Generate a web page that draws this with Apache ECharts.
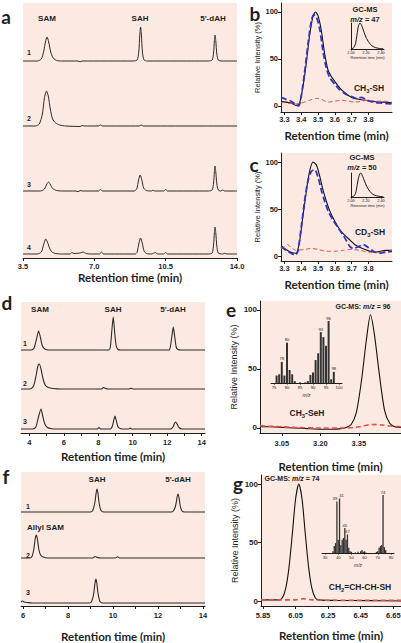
<!DOCTYPE html>
<html><head><meta charset="utf-8">
<script src="https://cdn.jsdelivr.net/npm/echarts@6/dist/echarts.min.js"></script>
<style>html,body{margin:0;padding:0;background:#fff}#c{width:401px;height:643px}</style>
</head><body><div id="c"></div>
<script>
// ---------------- DATA ----------------
// Panel a: HPLC traces (time min, absorbance a.u.)
const aTrace1 = [[3.5,0],[4.2,0],[4.4,2],[4.52,10],[4.6,19],[4.68,24],[4.76,19],[4.86,9],[4.98,3],[5.15,0.5],[5.4,0],[6.2,0],[6.3,-0.8],[6.4,0],[8.9,0],[9.1,1],[9.18,9],[9.23,26],[9.27,34],[9.31,26],[9.36,9],[9.44,1],[9.6,0],[12.6,0],[12.78,1],[12.85,8],[12.89,20],[12.92,26],[12.96,20],[13.01,7],[13.08,1],[13.25,0],[14.0,0]];
const aTrace2 = [[3.5,0],[4.1,0],[4.3,2],[4.45,12],[4.55,28],[4.65,35],[4.74,30],[4.84,17],[4.95,7],[5.1,3],[5.3,1],[5.6,0],[6.3,-0.5],[6.4,0.5],[6.5,0],[7.2,0],[7.3,1],[7.4,0],[9.2,0],[9.3,1],[9.4,0],[14.0,0]];
const aTrace3 = [[3.5,0],[4.35,0],[4.55,2],[4.67,7],[4.75,9],[4.83,7],[4.95,2.5],[5.15,0.5],[5.4,0],[6.1,0],[6.2,-0.8],[6.3,0.5],[6.4,0],[7.2,0],[7.3,1.5],[7.4,0],[8.95,0],[9.08,2],[9.17,11],[9.25,16],[9.33,11],[9.42,3],[9.55,0.5],[9.8,0],[9.88,0.8],[9.96,0],[10.4,0],[10.5,1.5],[10.6,0],[12.6,0],[12.78,1],[12.85,8],[12.89,19],[12.92,25],[12.96,19],[13.01,7],[13.08,1],[13.2,0],[13.3,1],[13.4,0],[14.0,0]];
const aTrace4 = [[3.5,0],[4.2,0],[4.4,2],[4.52,10],[4.62,15],[4.7,12],[4.8,6],[4.92,2],[5.1,0.5],[5.4,0],[5.8,0],[5.9,1.5],[6.0,0.5],[6.3,1],[6.45,2],[6.6,0.5],[6.8,0],[7.25,0],[7.35,2],[7.45,0],[9.0,0],[9.1,2],[9.19,11],[9.27,16],[9.35,11],[9.44,3],[9.56,0.5],[9.8,0],[10.0,1.5],[10.1,0],[10.4,0],[10.5,1.5],[10.6,0],[12.6,0],[12.78,1],[12.85,9],[12.89,21],[12.92,27],[12.96,21],[13.01,8],[13.08,1],[13.3,0],[13.4,0.8],[13.5,0],[14.0,0]];
const aTicks = [3.5,7.0,10.5,14.0];
const aPeakNames = ['SAM','SAH',"5'-dAH"];
const traceNums = ['1','2','3','4'];

// Panel b: GC-MS, CH3-SH (relative intensity %)
const bBlack = [[3.28,5],[3.31,4],[3.34,3],[3.37,0.5],[3.39,3],[3.41,20],[3.43,45],[3.45,75],[3.47,95],[3.485,100],[3.5,96],[3.52,80],[3.54,55],[3.56,38],[3.58,31],[3.6,26],[3.63,19],[3.66,14],[3.7,9],[3.74,7],[3.78,6],[3.82,5],[3.86,4],[3.9,4],[3.94,3]];
const bBlue = [[3.28,9],[3.31,7],[3.34,5],[3.37,1],[3.385,0],[3.4,10],[3.42,35],[3.44,65],[3.46,90],[3.475,97],[3.49,95],[3.51,82],[3.53,58],[3.55,40],[3.57,30],[3.6,23],[3.63,17],[3.66,13],[3.7,10],[3.73,8],[3.76,9],[3.79,6],[3.83,4],[3.88,3],[3.94,2]];
const bRed = [[3.28,4],[3.32,3],[3.36,2],[3.4,3],[3.45,6],[3.49,8],[3.52,7],[3.56,4],[3.6,5],[3.64,6],[3.68,5],[3.72,4],[3.76,5],[3.8,6],[3.85,5],[3.9,5],[3.94,4]];
const bInset = [[2.0,1],[2.03,3],[2.06,20],[2.08,55],[2.1,90],[2.12,100],[2.14,92],[2.17,68],[2.2,45],[2.24,25],[2.28,12],[2.33,5],[2.38,2],[2.43,1]];
// Panel c: CD3-SH
const cBlack = [[3.28,11],[3.31,7],[3.34,4],[3.37,3],[3.39,15],[3.41,42],[3.43,68],[3.45,90],[3.47,100],[3.49,97],[3.51,85],[3.53,70],[3.55,58],[3.57,48],[3.6,37],[3.63,28],[3.66,22],[3.69,17],[3.72,12],[3.75,9],[3.78,7],[3.81,5],[3.84,4],[3.87,5],[3.9,6],[3.94,6]];
const cBlue = [[3.28,10],[3.31,6],[3.34,3],[3.365,1],[3.38,5],[3.4,30],[3.42,58],[3.44,80],[3.46,90],[3.48,92],[3.5,84],[3.52,70],[3.54,58],[3.56,48],[3.59,38],[3.62,30],[3.65,22],[3.67,16],[3.69,10],[3.71,8],[3.74,10],[3.77,12],[3.8,9],[3.83,5],[3.86,3],[3.9,4],[3.94,5]];
const cRed = [[3.28,8],[3.3,10],[3.32,12],[3.34,9],[3.37,6],[3.42,7],[3.46,8],[3.5,7],[3.55,5],[3.6,5],[3.65,6],[3.7,7],[3.75,6],[3.8,4],[3.85,4],[3.9,5],[3.94,6]];
const cInset = [[2.0,1],[2.03,2],[2.06,15],[2.08,45],[2.1,80],[2.12,98],[2.13,100],[2.15,90],[2.18,66],[2.21,44],[2.25,24],[2.29,11],[2.34,5],[2.39,2],[2.43,1]];
const bTicks = [3.3,3.4,3.5,3.6,3.7,3.8];
const intensityTicks = [0,50,100];
const insetTicks = [2.0,2.2,2.4];

// Panel d
const dTrace1 = [[3.52,0],[4.1,0],[4.28,2],[4.42,11],[4.54,19],[4.64,13],[4.76,4],[4.9,1],[5.1,0],[8.6,0],[8.7,3],[8.78,18],[8.87,33],[8.95,18],[9.04,4],[9.15,0.5],[9.3,0],[12.1,0],[12.18,3],[12.27,14],[12.35,23],[12.43,14],[12.52,3],[12.62,0.5],[12.8,0],[14.19,0]];
const dTrace2 = [[3.52,0],[4.05,0],[4.25,3],[4.4,14],[4.5,23],[4.58,25],[4.68,20],[4.8,10],[4.92,4],[5.1,1.5],[5.4,0.5],[5.8,0],[8.2,0],[8.3,1.5],[8.42,0.5],[8.6,0],[9.8,0],[9.9,0.8],[10.0,0],[14.19,0]];
const dTrace3 = [[3.52,0],[4.2,0],[4.38,2],[4.52,11],[4.68,20],[4.78,13],[4.9,5],[5.05,1.5],[5.3,0.3],[5.6,0],[7.95,0],[8.04,1.5],[8.13,0],[8.7,0],[8.8,2],[8.89,8],[8.97,13],[9.05,8],[9.15,2],[9.3,0.3],[9.5,0],[9.78,0],[9.85,1],[9.92,0],[12.2,0],[12.33,2],[12.42,5.5],[12.49,7],[12.57,5],[12.68,1.5],[12.85,0],[14.19,0]];
const dTicks = [4,6,8,10,12,14];
const dTickMarks = [4,5,6,7,8,9,10,11,12,13,14];

// Panel e: CH3-SeH
const eBlack = [[2.965,1],[3.0,1],[3.05,0.5],[3.1,0],[3.15,-0.5],[3.2,-1],[3.25,-1],[3.28,-0.5],[3.3,0.5],[3.32,3],[3.34,13],[3.36,40],[3.38,76],[3.395,96],[3.41,80],[3.43,45],[3.45,15],[3.47,4],[3.49,1],[3.514,0.5]];
const eRed = [[2.965,2],[3.0,1.5],[3.05,1],[3.1,0.5],[3.2,0],[3.3,0],[3.35,1],[3.4,3],[3.44,2.5],[3.48,1.5],[3.514,1]];
const eTicks = [3.05,3.20,3.35];
const eSpecMz = [76,77,78,79,80,81,82,83,85,87,88,89,90,91,92,93,94,95,96,97,98];
const eSpecInt = [12,14,34,12,65,21,14,3,1,1,3,13,17,37,48,82,74,60,100,6,18];
const eSpecLabeled = [78,80,93,96,98];
const eSpecTicks = [75,80,85,90,95,100];

// Panel f
const fTrace1 = [[5.91,0],[9.0,0],[9.1,1.5],[9.19,9],[9.25,19],[9.29,23],[9.33,19],[9.39,8],[9.47,1.5],[9.6,0],[12.6,0],[12.7,1.5],[12.79,7],[12.85,15],[12.89,18],[12.93,15],[12.99,6],[13.07,1],[13.2,0],[14.09,0]];
const fTrace2 = [[5.91,0],[6.3,0],[6.4,1.5],[6.48,9],[6.54,19],[6.59,23],[6.64,19],[6.7,9],[6.78,3],[6.9,1],[7.1,0],[9.1,0],[9.2,1.5],[9.3,0.5],[9.45,0],[10.1,0],[10.2,1.2],[10.3,0],[14.09,0]];
const fTrace3 = [[5.91,1],[5.97,2],[6.05,1],[6.2,0.5],[6.4,0],[8.95,0],[9.05,1.5],[9.14,9],[9.2,20],[9.24,24],[9.28,20],[9.34,9],[9.42,1.5],[9.55,0],[14.09,0]];
const fTicks = [6,8,10,12,14];
const fTickMarks = [6,7,8,9,10,11,12,13,14];

// Panel g: CH2=CH-CH-SH
const gBlack = [[5.838,1],[5.9,1],[5.95,1],[5.97,3],[5.99,11],[6.01,29],[6.03,57],[6.05,87],[6.07,100],[6.09,87],[6.11,57],[6.13,29],[6.15,11],[6.17,3],[6.19,1],[6.3,0.5],[6.5,0.3],[6.697,0]];
const gRed = [[5.838,1],[5.95,1],[6.05,1],[6.1,2],[6.15,1],[6.3,0.5],[6.5,0.5],[6.697,0.5]];
const gTicks = [5.85,6.05,6.25,6.45,6.65];
const gSpecMz = [36,37,38,39,40,41,42,43,44,45,46,47,48,49,50,53,55,57,58,59,60,61,69,70,71,72,73,74,75,76];
const gSpecInt = [3,12,17,89,23,94,14,23,26,43,23,32,9,3,2,1,2,3,5,2,3,1,2,3,9,12,14,100,10,5];
const gSpecLabeled = [39,41,45,47,74];
const gSpecTicks = [30,40,50,60,70,80];

// ---------------- LAYOUT / STYLE ----------------
const INK = '#1e1e1e';
const FONT = "'Liberation Sans', Arial, sans-serif";
const TFONT = "Lato, 'Open Sans', sans-serif";
const PINK = '#fce9e1';
const A_OFF = [197,132,67,4], D_OFF = [83,44,4], F_OFF = [94,48,3];
const LABEL_SHIFT = {39:[-2,0], 41:[2,0]};

const grids = [
  {left:23, top:3, width:214, height:255, bg:1},    //0 a
  {left:281, top:3, width:111, height:109, bg:1},   //1 b
  {left:351, top:23, width:33, height:26},          //2 b inset
  {left:281, top:153, width:111, height:108, bg:1}, //3 c
  {left:351, top:173, width:33, height:24},         //4 c inset
  {left:21, top:302, width:184, height:131, bg:1},  //5 d
  {left:260, top:301, width:141, height:132, bg:1}, //6 e
  {left:271, top:321, width:71, height:62},         //7 e inset
  {left:21, top:472, width:184, height:134, bg:1},  //8 f
  {left:261, top:475, width:140, height:131, bg:1}, //9 g
  {left:322, top:495, width:72, height:58}          //10 g inset
].map(g => ({left:g.left, top:g.top, width:g.width, height:g.height, show:!!g.bg,
  backgroundColor: g.bg ? PINK : 'transparent', borderWidth:0, containLabel:false, outerBoundsMode:'none'}));

function mkX(gi, min, max, labels, ticks, o) {
  return {type:'value', gridIndex:gi, min, max, position:'bottom',
    axisLine:{show:true, onZero:false, lineStyle:{color:INK, width:1}},
    axisTick:{show:true, length:o.tl||3, customValues:ticks, lineStyle:{color:INK, width:1}},
    axisLabel:{show:true, customValues:labels, formatter:o.fmt, fontSize:o.fs||7.5, fontWeight:o.fw||'bold',
      fontFamily:FONT, color:INK, margin:o.lm||4, hideOverlap:false},
    splitLine:{show:false},
    name:o.name||'', nameLocation:'middle', nameGap:o.ng||15,
    nameTextStyle:{fontSize:o.nfs||11.5, fontWeight:o.nfw||'bold', fontFamily:o.nff||TFONT, color:INK, fontStyle:o.nst||'normal'}};
}
function mkY(gi, min, max, o) {
  if (o.hidden) return {type:'value', gridIndex:gi, min, max, show:false};
  return {type:'value', gridIndex:gi, min, max, position:'left',
    axisLine:{show:true, onZero:false, lineStyle:{color:INK, width:1}},
    axisTick:{show:!o.noTick, length:3, customValues:o.labels, lineStyle:{color:INK}},
    axisLabel:{show:!!o.labels, customValues:o.labels, fontSize:o.fs||7.5, fontWeight:'bold', fontFamily:FONT, color:INK, margin:3},
    splitLine:{show:false},
    name:o.name||'', nameLocation:'middle', nameGap:o.ng||14,
    nameTextStyle:{fontSize:o.nfs||7.5, fontFamily:FONT, color:INK}};
}
const RT = 'Retention time (min)';
const RI = 'Relative Intensity (%)';
const f1 = v => v.toFixed(1), f2 = v => v.toFixed(2), f0 = v => String(v);

const xAxis = [
  mkX(0, 3.5, 14.0, aTicks, aTicks, {fmt:f1, name:RT, ng:13}),
  mkX(1, 3.28, 3.94, bTicks, bTicks, {fmt:f1, name:RT, ng:17, lm:3}),
  mkX(2, 2.0, 2.44, insetTicks, insetTicks, {fmt:f2, fs:3.8, fw:'normal', lm:2, tl:1.5, name:RT, ng:6, nfs:3.8, nfw:'normal', nff:FONT}),
  mkX(3, 3.28, 3.94, bTicks, bTicks, {fmt:f1, name:RT, ng:17, lm:3}),
  mkX(4, 2.0, 2.44, insetTicks, insetTicks, {fmt:f2, fs:3.8, fw:'normal', lm:2, tl:1.5, name:RT, ng:6, nfs:3.8, nfw:'normal', nff:FONT}),
  mkX(5, 3.52, 14.19, dTicks, dTickMarks, {fmt:f0, name:RT, ng:17, lm:5}),
  mkX(6, 2.965, 3.514, eTicks, eTicks, {fmt:f2, name:RT, ng:27, lm:6}),
  mkX(7, 73.85, 101.15, eSpecTicks, eSpecTicks, {fmt:f0, fs:4.2, fw:'normal', lm:2, tl:1.5, name:'m/z', ng:9, nfs:5, nfw:'normal', nff:FONT, nst:'italic'}),
  mkX(8, 5.91, 14.09, fTicks, fTickMarks, {fmt:f0, name:RT, ng:24, lm:5}),
  mkX(9, 5.838, 6.697, gTicks, gTicks, {fmt:f2, name:RT, ng:23, lm:5}),
  mkX(10, 27.7, 82.3, gSpecTicks, gSpecTicks, {fmt:f0, fs:4.2, fw:'normal', lm:2, tl:1.5, name:'m/z', ng:9, nfs:5, nfw:'normal', nff:FONT, nst:'italic'})
];
const yAxis = [
  mkY(0, 0, 255, {hidden:true}),
  mkY(1, -6.5, 109.5, {labels:intensityTicks, name:RI, ng:14}),
  mkY(2, 0, 100, {noTick:true}),
  mkY(3, -5.3, 109.6, {labels:intensityTicks, name:RI, ng:14}),
  mkY(4, 0, 100, {noTick:true}),
  mkY(5, 0, 131, {hidden:true}),
  mkY(6, -4.24, 107.6, {labels:intensityTicks, name:RI, ng:22, nfs:9, fs:8}),
  mkY(7, 0, 100, {hidden:true}),
  mkY(8, 0, 134, {hidden:true}),
  mkY(9, -4.27, 107.7, {labels:intensityTicks, name:RI, ng:22, nfs:9, fs:8}),
  mkY(10, 0, 100, {hidden:true})
];

const shift = (arr, off) => arr.map(p => [p[0], p[1] + off]);
function line(gi, data, color, width, type, smooth) {
  return {type:'line', xAxisIndex:gi, yAxisIndex:gi, data, showSymbol:false, symbol:'none',
    smooth: smooth === undefined ? 0.25 : smooth, clip:true, silent:true,
    lineStyle:{color, width, type: type||'solid'}, z:3};
}
const TRACE = '#2b2b2b';
const BLUE = '#2f33c9', RED = '#e2504a';
function bars(gi, mz, inten, labeled, bw) {
  return {type:'bar', xAxisIndex:gi, yAxisIndex:gi,
    data: mz.map((m,i)=>{
      const d = {value:[m, inten[i]]};
      if (LABEL_SHIFT[m]) d.label = {offset: LABEL_SHIFT[m]};
      return d;
    }), barWidth:bw,
    itemStyle:{color:'#333'}, silent:true, z:4,
    label:{show:true, position:'top', distance:1, fontSize:4.2, fontFamily:FONT, color:INK,
      formatter: p => labeled.includes(p.value[0]) ? String(p.value[0]) : ''}};
}

const series = [
  ...[aTrace1,aTrace2,aTrace3,aTrace4].map((t,i)=>line(0, shift(t, A_OFF[i]), TRACE, 1)),
  line(1, bBlack, '#111', 1.1),
  line(1, bBlue, BLUE, 1.8, [6,3]),
  line(1, bRed, RED, 1, [4,3]),
  line(2, bInset, '#111', 1),
  line(3, cBlack, '#111', 1.1),
  line(3, cBlue, BLUE, 1.8, [6,3]),
  line(3, cRed, RED, 1, [4,3]),
  line(4, cInset, '#111', 1),
  ...[dTrace1,dTrace2,dTrace3].map((t,i)=>line(5, shift(t, D_OFF[i]), TRACE, 1.1)),
  line(6, eBlack, '#111', 1.1),
  line(6, eRed, RED, 1.6, [5,3]),
  bars(7, eSpecMz, eSpecInt, eSpecLabeled, 2),
  ...[fTrace1,fTrace2,fTrace3].map((t,i)=>line(8, shift(t, F_OFF[i]), TRACE, 1.1)),
  line(9, gBlack, '#111', 1.1),
  line(9, gRed, RED, 1.6, [5,3]),
  bars(10, gSpecMz, gSpecInt, gSpecLabeled, 1.3)
];

// ---------------- TEXT ----------------
function T(x, y, text, size, extra) {
  const st = Object.assign({text, fontSize:size, fontFamily:FONT, fontWeight:'bold', fill:INK,
    textAlign:'center', textVerticalAlign:'middle', align:'center', verticalAlign:'middle'}, extra||{});
  return {type:'text', x, y, z:100, silent:true, style:st};
}
const mctx = document.createElement('canvas').getContext('2d');
function textW(str, size, weight) {
  mctx.font = weight + ' ' + size + 'px ' + FONT;
  return mctx.measureText(str).width;
}
// chemical formula with subscripts: separate text pieces laid side by side, centred on x
function chem(x, y, parts, size) {
  const w = 'bold', sub = size * 0.68;
  const widths = parts.map(p => textW(p[0], p[1] ? sub : size, w));
  const total = widths.reduce((a,b)=>a+b, 0);
  let cx = x - total/2;
  const out = [];
  parts.forEach((p, i) => {
    out.push(T(cx, p[1] ? y + 2.5 : y, p[0], p[1] ? sub : size, {textAlign:'left', align:'left'}));
    cx += widths[i];
  });
  return out;
}
function mz(x, y, pre, post, size) {
  return T(x, y, (pre?'{b|'+pre+'}':'') + '{i|m/z}{b|' + post + '}', size, {rich:{
    b:{fontSize:size, fontFamily:FONT, fontWeight:'bold', fill:INK, color:INK},
    i:{fontSize:size, fontFamily:FONT, fontWeight:'bold', fontStyle:'italic', fill:INK, color:INK}}});
}
const LET = {fontFamily:TFONT, fontWeight:'bold'};
const graphics = [
  T(6,16,'a',19,LET), T(255,13,'b',19,LET), T(254,164,'c',19,LET), T(7,302,'d',19,LET),
  T(231,309,'e',19,LET), T(6,476,'f',19,LET), T(238,483,'g',19,LET),
  // a
  T(47,18,aPeakNames[0],8), T(140,18,aPeakNames[1],8), T(213,18,aPeakNames[2],8),
  T(29,52,traceNums[0],7), T(29,118,traceNums[1],7), T(29,184,traceNums[2],7), T(29,247,traceNums[3],7),
  // b
  T(365,9,'GC-MS',7.5), mz(365,19,'',' = 47',7.5), ...chem(369,88,[['CH',0],['3',1],['-SH',0]],8.5),
  // c
  T(362,157,'GC-MS',7.5), mz(362,167,'',' = 50',7.5), ...chem(370,232,[['CD',0],['3',1],['-SH',0]],8.5),
  // d
  T(40,309,aPeakNames[0],8), T(113,309,aPeakNames[1],8), T(173,309,aPeakNames[2],8),
  T(25,343,traceNums[0],7), T(25,383,traceNums[1],7), T(25,421,traceNums[2],7),
  // e
  mz(363,306,'GC-MS: ',' = 96',7), ...chem(307,413,[['CH',0],['3',1],['-SeH',0]],8.5),
  // f
  T(97,479,aPeakNames[1],8), T(178,479,aPeakNames[2],8), T(27,527,'Allyl SAM',8,{textAlign:'left',align:'left'}),
  T(28,506,traceNums[0],7), T(28,555,traceNums[1],7), T(28,592,traceNums[2],7),
  // g
  mz(292,478,'GC-MS: ',' = 74',7), ...chem(360,587,[['CH',0],['2',1],['=CH-CH-SH',0]],8.5)
];

const chart = echarts.init(document.getElementById('c'), null, {renderer:'svg', width:401, height:643});
chart.setOption({animation:false, backgroundColor:'#ffffff', grid:grids, xAxis, yAxis, series, graphic:{elements:graphics}});
</script></body></html>
